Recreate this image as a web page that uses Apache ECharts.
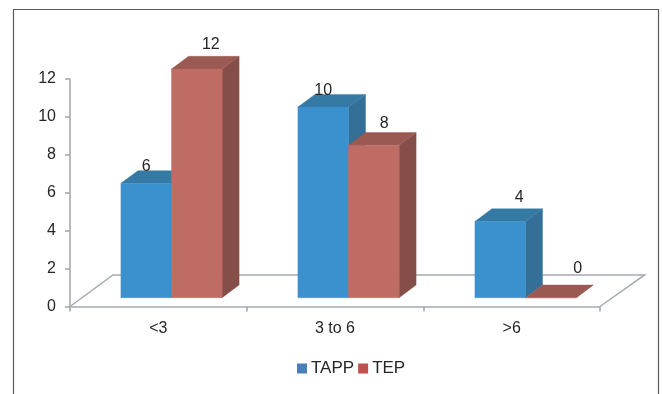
<!DOCTYPE html>
<html>
<head>
<meta charset="utf-8">
<style>html,body{margin:0;padding:0;background:#fff}#chart{width:662px;height:394px}</style>
<script src="https://cdn.jsdelivr.net/npm/echarts@6/dist/echarts.min.js"></script>
</head>
<body>
<div id="chart"></div>
<script>
// Hernia-repair counts per duration group, drawn as pseudo-3D columns.
const categories = ['<3', '3 to 6', '>6'];
const tapp = [6, 10, 4];
const tep = [12, 8, 0];
const yTicks = { min: 0, max: 12, interval: 2 };

// Column faces and label placement.
const FONT = '"Liberation Sans", Arial, sans-serif';
const TEXT = '#262626';
const AXIS = '#a5aab0';
const BAR_W = 50.6;
const DEPTH = [17, -12.7];
const FLOOR = [43, -31.6];
const tappFaces = { front: '#3a91ce', top: '#3579a5', side: '#336f96' };
const tepFaces = { front: '#bf6c64', top: '#9a5952', side: '#864e49' };
const tappNudge = [[0, -17], [0, -17], [19, -23.7]];
const tepNudge = [[14, -24.5], [10.5, -21.7], [27, -28.7]];

function columnSeries(name, values, faces, swatch, side, nudge) {
  return {
    name, type: 'custom', xAxisIndex: 1, yAxisIndex: 1, z: 3,
    itemStyle: { color: swatch },
    data: values.map((v, i) => [i, v]),
    encode: { x: 0, y: 1 },
    renderItem(params, api) {
      const i = api.value(0), v = api.value(1);
      const top = api.coord([i, v]);
      const base = api.coord([i, 0]);
      const x0 = side < 0 ? top[0] - BAR_W : top[0];
      const x1 = x0 + BAR_W;
      const [dx, dy] = DEPTH;
      const poly = (points, fill) => ({
        type: 'polygon', shape: { points }, style: { fill, stroke: fill, lineWidth: 0.4 }
      });
      const [nx, ny] = nudge[i];
      return {
        type: 'group',
        children: [
          poly([[x1, top[1]], [x1 + dx, top[1] + dy], [x1 + dx, base[1] + dy], [x1, base[1]]], faces.side),
          poly([[x0, top[1]], [x0 + dx, top[1] + dy], [x1 + dx, top[1] + dy], [x1, top[1]]], faces.top),
          poly([[x0, top[1]], [x1, top[1]], [x1, base[1]], [x0, base[1]]], faces.front),
          {
            type: 'text', z2: 20,
            style: {
              text: String(v), x: (x0 + x1) / 2 + nx, y: top[1] + ny,
              align: 'center', verticalAlign: 'middle',
              font: '16px ' + FONT, fill: TEXT
            }
          }
        ]
      };
    }
  };
}

// Receding edges of the floor plane, taken from the plotted axis box.
const floorSeries = {
  type: 'custom', xAxisIndex: 0, yAxisIndex: 0, z: 1, silent: true,
  legendHoverLink: false, data: [[0, 0]], encode: { x: 0, y: 1 },
  renderItem(params) {
    const c = params.coordSys;
    const by = c.y + c.height;
    return {
      type: 'polyline',
      shape: { points: [[c.x, by], [c.x + FLOOR[0], by + FLOOR[1]], [c.x + c.width + FLOOR[0] + 1.6, by + FLOOR[1]], [c.x + c.width, by]] },
      style: { stroke: AXIS, lineWidth: 1.5, fill: null }
    };
  }
};

const axisStyle = { lineStyle: { color: AXIS, width: 1.6 } };

const chart = echarts.init(document.getElementById('chart'), null, { renderer: 'canvas' });
chart.setOption({
  animation: false,
  backgroundColor: '#fff',
  grid: [
    { left: 70, width: 530, top: 79, height: 227.5 },
    { left: 83, width: 531, top: 69, height: 228.7 }
  ],
  xAxis: [
    {
      type: 'category', gridIndex: 0, data: categories,
      axisLine: axisStyle,
      axisTick: { show: true, length: 5, alignWithLabel: false, lineStyle: { color: AXIS, width: 1.6 } },
      axisLabel: { color: TEXT, fontFamily: FONT, fontSize: 16, margin: 14 }
    },
    { type: 'category', gridIndex: 1, data: categories, show: false }
  ],
  yAxis: [
    {
      type: 'value', gridIndex: 0, ...yTicks,
      axisLine: { show: true, ...axisStyle },
      axisTick: { show: true, length: 5, lineStyle: { color: AXIS, width: 1.6 } },
      axisLabel: { color: TEXT, fontFamily: FONT, fontSize: 16, margin: 14, padding: [3, 0, 0, 0] },
      splitLine: { show: false }
    },
    { type: 'value', gridIndex: 1, ...yTicks, show: false, splitLine: { show: false } }
  ],
  legend: {
    left: 292, top: 355, itemWidth: 10, itemHeight: 10, itemGap: 4,
    icon: 'rect', data: ['TAPP', 'TEP'],
    textStyle: { color: TEXT, fontFamily: FONT, fontSize: 17, padding: [0, 0, 0, -1] }
  },
  // Outer frame, open along the bottom edge.
  graphic: [{
    type: 'polyline', silent: true,
    shape: { points: [[13.5, 394], [13.5, 9.5], [658.5, 9.5], [658.5, 394]] },
    style: { stroke: '#5a5a5a', lineWidth: 1.2, fill: null }
  }],
  series: [
    floorSeries,
    columnSeries('TAPP', tapp, tappFaces, '#4a7ebb', -1, tappNudge),
    columnSeries('TEP', tep, tepFaces, '#c0504d', 1, tepNudge)
  ]
});
</script>
</body>
</html>
